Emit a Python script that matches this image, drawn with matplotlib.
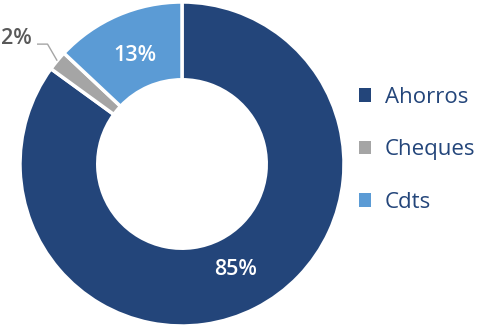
import numpy as np
import matplotlib.pyplot as plt
from matplotlib.patches import Patch

# data
labels = ['Ahorros', 'Cheques', 'Cdts']
values = [85, 2, 13]
colors = ['#23457A', '#A5A5A5', '#5B9BD5']

fig = plt.figure(figsize=(5.03, 3.29), dpi=100)
W, H = 503, 329
cx, cy, r = 182, 164, 162
ax = fig.add_axes([(cx - r) / W, (H - cy - r) / H, 2 * r / W, 2 * r / H])

wedges, _ = ax.pie(values, colors=colors, startangle=90, counterclock=False,
                   radius=1, wedgeprops=dict(width=0.48, edgecolor='white', linewidth=2.5))
ax.set_xlim(-1, 1)
ax.set_ylim(-1, 1)
ax.set_aspect('equal')
ax.axis('off')

font = 'Open Sans'
total = sum(values)
for w, v in zip(wedges, values):
    mid = np.deg2rad((w.theta1 + w.theta2) / 2)
    txt = f'{round(v / total * 100)}%'
    if v / total > 0.05:
        ax.text(0.73 * np.cos(mid), 0.73 * np.sin(mid), txt, ha='center', va='center',
                color='white', fontsize=15.5, family=font, fontweight='semibold')
    else:
        # small slice: label outside with leader line
        ex, ey = 1.0 * np.cos(mid), 1.0 * np.sin(mid)
        ax.plot([-0.895, -0.83, ex], [0.74, 0.74, ey], color='#A5A5A5', lw=1,
                clip_on=False, solid_capstyle='butt')
        ax.text(-0.93, 0.775, txt, ha='right', va='center', color='#595959',
                fontsize=15.5, family=font, fontweight='semibold', clip_on=False)

handles = [Patch(facecolor=c, edgecolor='none') for c in colors]
leg = fig.legend(handles, labels, loc='center left', bbox_to_anchor=(339 / W, 1 - 150 / H),
                 frameon=False, handlelength=0.56, handleheight=0.56, handletextpad=0.6,
                 labelspacing=1.42, prop=dict(family=font, size=16))
for t in leg.get_texts():
    t.set_color('#23457A')

fig.savefig('out.png', dpi=100)
